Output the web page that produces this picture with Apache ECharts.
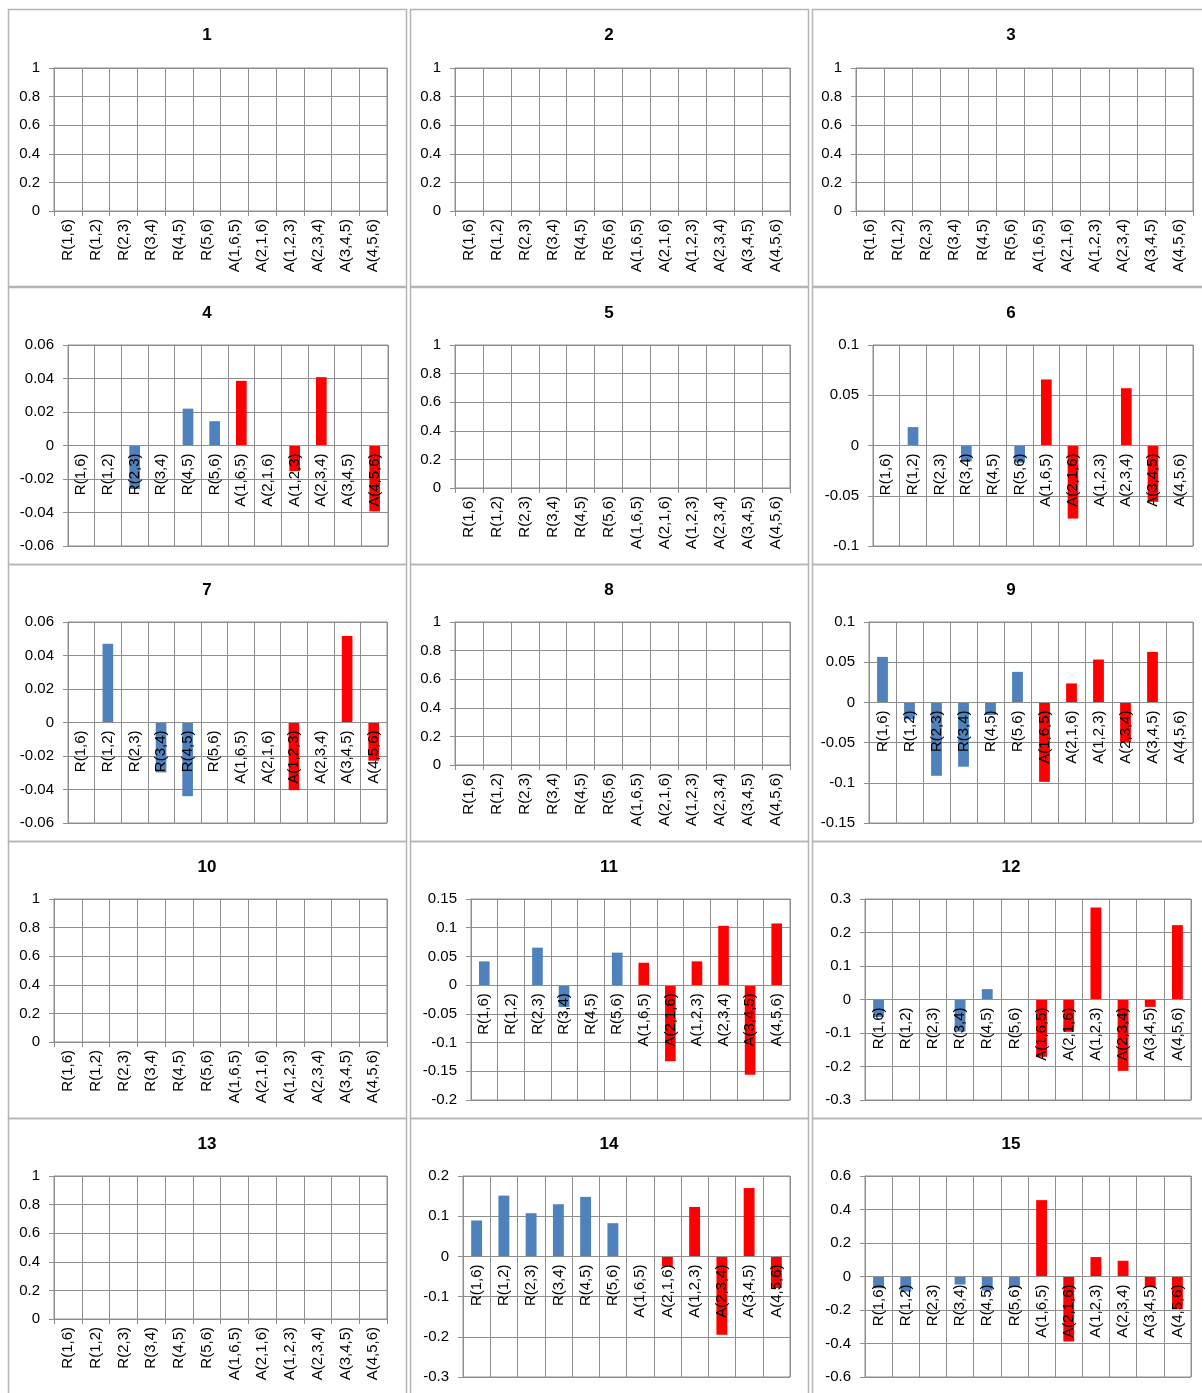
<!DOCTYPE html>
<html>
<head>
<meta charset="utf-8">
<script src="https://cdn.jsdelivr.net/npm/echarts@6/dist/echarts.min.js"></script>
<style>
html,body{margin:0;padding:0;background:#fff;}
#chart{width:1202px;height:1393px;}
</style>
</head>
<body>
<div id="chart"></div>
<script>
// ---- data ----
const categories = ['R(1,6)','R(1,2)','R(2,3)','R(3,4)','R(4,5)','R(5,6)','A(1,6,5)','A(2,1,6)','A(1,2,3)','A(2,3,4)','A(3,4,5)','A(4,5,6)'];
const titles = ['1','2','3','4','5','6','7','8','9','10','11','12','13','14','15'];

const values1 = [];
const values2 = [];
const values3 = [];
const values4 = [0, 0, -0.026, 0, 0.022, 0.0145, 0.0386, 0, -0.0153, 0.0408, 0, -0.0394];
const values5 = [];
const values6 = [0, 0.0183, 0, -0.0157, 0, -0.017, 0.0657, -0.0727, 0, 0.057, -0.056, 0];
const values7 = [0, 0.047, 0, -0.0298, -0.044, 0, 0, 0, -0.0404, 0, 0.0516, -0.0228];
const values8 = [];
const values9 = [0.0566, -0.021, -0.0913, -0.080, -0.0157, 0.038, -0.0988, 0.0236, 0.0533, -0.0496, 0.0628, 0];
const values10 = [];
const values11 = [0.0414, 0, 0.0653, -0.038, 0, 0.0566, 0.039, -0.1324, 0.0414, 0.1033, -0.156, 0.1074];
const values12 = [-0.052, 0, 0, -0.096, 0.031, 0, -0.171, -0.0965, 0.2746, -0.213, -0.022, 0.222];
const values13 = [];
const values14 = [0.0893, 0.1512, 0.1074, 0.1298, 0.148, 0.0826, 0, -0.0248, 0.123, -0.195, 0.170, -0.0785];
const values15 = [-0.07, -0.09, 0, -0.048, -0.084, -0.064, 0.456, -0.388, 0.116, 0.094, -0.064, -0.195];

const yMin  = [0,0,0,-0.06,0,-0.1,-0.06,0,-0.15,0,-0.2,-0.3,0,-0.3,-0.6];
const yMax  = [1,1,1, 0.06,1, 0.1, 0.06,1, 0.1, 1, 0.15, 0.3,1, 0.2, 0.6];
const yStep = [0.2,0.2,0.2,0.02,0.2,0.05,0.02,0.2,0.05,0.2,0.05,0.1,0.2,0.1,0.2];

const allValues = [values1,values2,values3,values4,values5,values6,values7,values8,values9,values10,values11,values12,values13,values14,values15];

// ---- layout (styling only) ----
const BLUE = '#4F81BD', RED = '#FF0000', GRID = '#8e8e8e';
const rowTop = [68, 345, 622, 899, 1176];
const panelTop = [9, 287, 564, 841, 1118];
const panelLeft = [8, 410, 812];
// [left, right] of plot area per panel
const plotX = [
  [54,387],[455,790],[856,1193],
  [68,388],[455,790],[873,1193],
  [68,387],[455,790],[869,1193],
  [54,387],[471,790],[865,1191],
  [54,387],[463,790],[865,1191]
];

const grids = [], xAxes = [], yAxes = [], series = [], titleOpts = [], graphics = [];
const FONT = 'Liberation Sans';

for (let i = 0; i < 15; i++) {
  const r = Math.floor(i / 3), c = i % 3;
  const hasNeg = yMin[i] < 0;
  const h = hasNeg ? 201 : 143;
  // move the category axis (line, ticks, labels) up to the value 0 position
  const zeroOffset = -h * (0 - yMin[i]) / (yMax[i] - yMin[i]);
  grids.push({
    left: plotX[i][0], top: rowTop[r], width: plotX[i][1] - plotX[i][0], height: h,
    show: true, borderColor: GRID, borderWidth: 1, backgroundColor: 'transparent'
  });
  xAxes.push({
    type: 'category', gridIndex: i, data: categories, z: 5, position: 'bottom',
    offset: zeroOffset,
    axisLine: { show: true, onZero: false, lineStyle: { color: GRID, width: 1 } },
    axisTick: { show: true, alignWithLabel: false, length: 5, lineStyle: { color: GRID } },
    splitLine: { show: true, lineStyle: { color: GRID, width: 1 } },
    axisLabel: { rotate: 90, interval: 0, fontSize: 15, color: '#000', margin: 8, fontFamily: FONT }
  });
  yAxes.push({
    type: 'value', gridIndex: i, min: yMin[i], max: yMax[i], interval: yStep[i],
    axisLine: { show: true, onZero: false, lineStyle: { color: GRID, width: 1 } },
    axisTick: { show: true, length: 5, lineStyle: { color: GRID } },
    splitLine: { show: true, lineStyle: { color: GRID, width: 1 } },
    axisLabel: { fontSize: 15, color: '#000', margin: 14, fontFamily: FONT }
  });
  series.push({
    type: 'bar', xAxisIndex: i, yAxisIndex: i, barWidth: '40%',
    data: allValues[i].map((v, k) => ({ value: v, itemStyle: { color: k < 6 ? BLUE : RED } }))
  });
  titleOpts.push({
    text: titles[i], left: panelLeft[c] + 194, top: panelTop[r] + 13, textAlign: 'center',
    textStyle: { fontSize: 17, fontWeight: 'bold', color: '#000', fontFamily: FONT }
  });
  graphics.push({
    type: 'rect', silent: true, z: -1,
    shape: { x: panelLeft[c] + 0.5, y: panelTop[r] + 0.5, width: 398, height: 277 },
    style: { fill: 'none', stroke: '#b5b5b5', lineWidth: 1.5 }
  });
}

const chart = echarts.init(document.getElementById('chart'), null, { renderer: 'canvas' });
chart.setOption({
  animation: false,
  backgroundColor: '#fff',
  title: titleOpts,
  grid: grids,
  xAxis: xAxes,
  yAxis: yAxes,
  series: series,
  graphic: graphics
});
</script>
</body>
</html>
